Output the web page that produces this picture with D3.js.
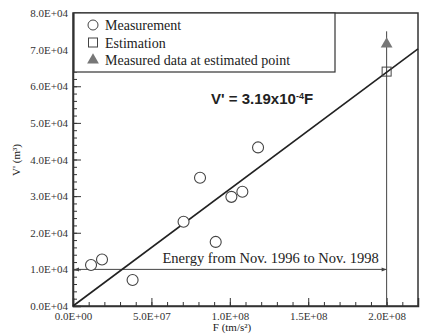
<!DOCTYPE html>
<html>
<head>
<meta charset="utf-8">
<script src="https://cdn.jsdelivr.net/npm/d3@7"></script>
<style>
  body { margin: 0; background: #fff; }
  svg { display: block; }
  .tick text { font-family: "Liberation Serif", "Times New Roman", serif; font-size: 11px; fill: #333; }
  .serif { font-family: "Liberation Serif", "Times New Roman", serif; fill: #222; }
</style>
</head>
<body>
<svg id="chart" width="422" height="334"></svg>
<script>
// measured points (F in tm/s^2, V' in m^3)
const measF = [1.15e7, 1.85e7, 3.8e7, 7.05e7, 8.1e7, 9.1e7, 1.01e8, 1.08e8, 1.18e8];
const measV = [1.12e4, 1.27e4, 7.1e3, 2.3e4, 3.5e4, 1.75e4, 2.98e4, 3.12e4, 4.33e4];
// estimation and measured value at the estimated point
const estF = [2.0e8];
const estV = [6.4e4];
const checkF = [2.0e8];
const checkV = [7.15e4];
const slope = 3.19e-4;
// energy period arrow
const energyF = [0, 2.0e8];
const energyV = 1.0e4;
const markerTop = 7.5e4;

const xTicks = [0, 5e7, 1e8, 1.5e8, 2e8];
const xTickLabels = ['0.0E+00', '5.0E+07', '1.0E+08', '1.5E+08', '2.0E+08'];
const yTicks = [0, 1e4, 2e4, 3e4, 4e4, 5e4, 6e4, 7e4, 8e4];
const yTickLabels = ['0.0E+04', '1.0E+04', '2.0E+04', '3.0E+04', '4.0E+04', '5.0E+04', '6.0E+04', '7.0E+04', '8.0E+04'];
const legendLabels = ['Measurement', 'Estimation', 'Measured data at estimated point'];

const svg = d3.select('#chart');
const margin = { left: 73, top: 13, right: 4, bottom: 28 };
const width = 422 - margin.left - margin.right;
const height = 334 - margin.top - margin.bottom;

const x = d3.scaleLinear().domain([0, 2.2e8]).range([0, width]);
const y = d3.scaleLinear().domain([0, 8e4]).range([height, 0]);

const g = svg.append('g').attr('transform', `translate(${margin.left},${margin.top})`);
const ink = '#333';

// arrow markers
const defs = svg.append('defs');
defs.append('marker')
    .attr('id', 'arr')
    .attr('viewBox', '0 0 10 10')
    .attr('refX', 10).attr('refY', 5)
    .attr('markerWidth', 9).attr('markerHeight', 5)
    .attr('orient', 'auto-start-reverse')
    .append('path')
    .attr('d', 'M0,1 L10,5 L0,9 Z')
    .style('fill', '#444');

// minor ticks
g.append('g')
    .attr('transform', `translate(0,${height})`)
    .call(d3.axisBottom(x).tickValues(d3.range(0, 2.2e8, 1e7)).tickSize(-4).tickFormat(''))
    .call(a => a.select('.domain').remove());
g.append('g')
    .call(d3.axisLeft(y).tickValues(d3.range(0, 8e4, 2e3)).tickSize(-4).tickFormat(''))
    .call(a => a.select('.domain').remove());

// major axes
g.append('g')
    .attr('transform', `translate(0,${height})`)
    .call(d3.axisBottom(x).tickValues(xTicks).tickSize(-8).tickPadding(6)
        .tickFormat((d, i) => xTickLabels[i]));
g.append('g')
    .call(d3.axisLeft(y).tickValues(yTicks).tickSize(-8).tickPadding(5)
        .tickFormat((d, i) => yTickLabels[i]));

g.selectAll('.tick line').style('stroke', ink);
g.selectAll('.domain').style('stroke', ink).style('stroke-width', 1.5);

// frame top & right
g.append('rect')
    .attr('width', width).attr('height', height)
    .style('fill', 'none').style('stroke', ink).style('stroke-width', 1.5);

// energy arrow
g.append('line')
    .attr('x1', x(energyF[0]) + 1).attr('x2', x(energyF[1]))
    .attr('y1', y(energyV)).attr('y2', y(energyV))
    .style('stroke', '#444').style('stroke-width', 1)
    .attr('marker-start', 'url(#arr)')
    .attr('marker-end', 'url(#arr)');
g.append('text')
    .attr('class', 'serif')
    .attr('x', x(1.26e8)).attr('y', y(energyV) - 6)
    .attr('text-anchor', 'middle')
    .style('font-size', '14.5px')
    .text('Energy from Nov. 1996 to Nov. 1998');

// vertical line at estimated point
g.append('line')
    .attr('x1', x(estF[0])).attr('x2', x(estF[0]))
    .attr('y1', y(0)).attr('y2', y(markerTop))
    .style('stroke', '#444').style('stroke-width', 1);

// regression line
g.append('line')
    .attr('x1', x(0)).attr('y1', y(0))
    .attr('x2', x(2.2e8)).attr('y2', y(slope * 2.2e8))
    .style('stroke', '#222').style('stroke-width', 1.6);

// equation
const eq = g.append('text')
    .attr('x', x(8.8e7)).attr('y', y(5.52e4))
    .style('font-family', '"Liberation Sans", Arial, sans-serif')
    .style('font-weight', 'bold').style('font-size', '15px').style('fill', '#222');
eq.append('tspan').text("V' = 3.19x10");
eq.append('tspan').attr('dy', -5).style('font-size', '9px').text('-4');
eq.append('tspan').attr('dy', 5).text('F');

// measurements
g.selectAll('.meas')
    .data(measF)
    .enter()
    .append('circle')
    .attr('class', 'meas')
    .attr('cx', d => x(d))
    .attr('cy', (d, i) => y(measV[i]))
    .attr('r', 5.5)
    .style('fill', '#fff')
    .style('stroke', '#444')
    .style('stroke-width', 1.1);

// estimation
g.selectAll('.est')
    .data(estF)
    .enter()
    .append('rect')
    .attr('x', d => x(d) - 4.5)
    .attr('y', (d, i) => y(estV[i]) - 4.5)
    .attr('width', 9).attr('height', 9)
    .style('fill', 'none')
    .style('stroke', '#444');

// measured data at estimated point
const tri = d3.symbol().type(d3.symbolTriangle).size(60);
g.selectAll('.chk')
    .data(checkF)
    .enter()
    .append('path')
    .attr('transform', (d, i) => `translate(${x(d)},${y(checkV[i])})`)
    .attr('d', tri)
    .style('fill', '#777');

// legend
const lg = svg.append('g').attr('transform', 'translate(74,13)');
lg.append('rect')
    .attr('width', 261).attr('height', 59)
    .style('fill', '#fff').style('stroke', ink).style('stroke-width', 1.2);
const rows = lg.selectAll('.row')
    .data(legendLabels)
    .enter()
    .append('g')
    .attr('transform', (d, i) => `translate(19,${12 + i * 17.5})`);
rows.append('text')
    .attr('class', 'serif')
    .attr('x', 12).attr('y', 5)
    .style('font-size', '14px')
    .text(d => d);
rows.filter((d, i) => i === 0).append('circle')
    .attr('r', 5).style('fill', 'none').style('stroke', '#444');
rows.filter((d, i) => i === 1).append('rect')
    .attr('x', -4.5).attr('y', -4.5).attr('width', 9).attr('height', 9)
    .style('fill', 'none').style('stroke', '#444');
rows.filter((d, i) => i === 2).append('path')
    .attr('d', tri).style('fill', '#777');

// axis titles
svg.append('text')
    .attr('class', 'serif')
    .attr('transform', 'translate(20,160) rotate(-90)')
    .attr('text-anchor', 'middle')
    .style('font-size', '11px')
    .text("V' (m³)");
svg.append('text')
    .attr('class', 'serif')
    .attr('x', 232).attr('y', 331)
    .attr('text-anchor', 'middle')
    .style('font-size', '11px')
    .text('F (tm/s²)');
</script>
</body>
</html>
